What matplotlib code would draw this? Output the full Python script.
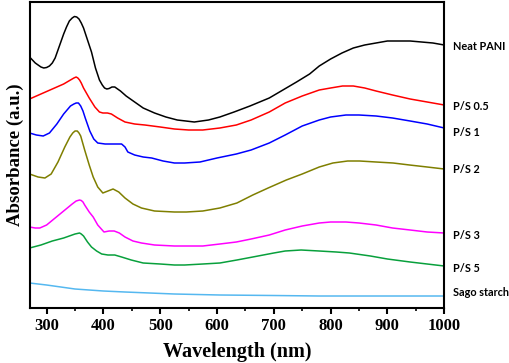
import numpy as np
import matplotlib
matplotlib.use("Agg")
import matplotlib.pyplot as plt
from matplotlib.ticker import MultipleLocator

# UV-vis spectra (absorbance in arbitrary units, offset per sample)
wl_pani = [270, 280, 285, 290, 295, 300, 305, 310, 315, 320, 325, 330, 335, 340, 345, 349,
           353, 357, 361, 365, 372, 379, 386, 393, 398, 402, 406, 410, 415, 420, 425, 430,
           440, 455, 470, 490, 510, 530, 560, 585, 605, 630, 658, 692, 716, 740, 763, 780,
           800, 820, 840, 860, 880, 900, 920, 940, 960, 980, 1000]
abs_pani = [2.51, 2.45, 2.43, 2.41, 2.40, 2.405, 2.42, 2.45, 2.50, 2.58, 2.66, 2.74, 2.81,
            2.87, 2.90, 2.915, 2.91, 2.89, 2.85, 2.80, 2.68, 2.56, 2.40, 2.28, 2.23, 2.20,
            2.19, 2.195, 2.21, 2.21, 2.19, 2.17, 2.12, 2.06, 2.00, 1.95, 1.91, 1.88, 1.86,
            1.88, 1.91, 1.96, 2.02, 2.10, 2.18, 2.26, 2.34, 2.42, 2.49, 2.55, 2.60, 2.63,
            2.65, 2.67, 2.67, 2.67, 2.66, 2.65, 2.63]

wl_ps05 = [270, 290, 310, 330, 345, 348, 352, 355, 358, 361, 365, 375, 385, 393, 399, 407,
           414, 425, 438, 455, 473, 500, 525, 550, 575, 605, 634, 660, 692, 720, 750, 780,
           800, 821, 840, 860, 880, 909, 940, 970, 1000]
abs_ps05 = [2.09, 2.14, 2.19, 2.24, 2.29, 2.30, 2.31, 2.30, 2.28, 2.25, 2.20, 2.10, 2.01,
            1.96, 1.95, 1.95, 1.94, 1.90, 1.86, 1.84, 1.83, 1.81, 1.79, 1.78, 1.78, 1.80,
            1.83, 1.88, 1.96, 2.05, 2.12, 2.18, 2.20, 2.22, 2.22, 2.20, 2.17, 2.13, 2.09,
            2.06, 2.03]

wl_ps1 = [270, 282, 294, 305, 318, 330, 342, 348, 352, 356, 360, 364, 368, 376, 383, 390,
          403, 420, 432, 438, 443, 455, 470, 485, 505, 525, 543, 570, 600, 634, 660, 692,
          720, 750, 780, 800, 827, 850, 880, 909, 940, 970, 1000]
abs_ps1 = [1.75, 1.73, 1.72, 1.75, 1.84, 1.94, 2.02, 2.04, 2.05, 2.05, 2.02, 1.97, 1.90,
           1.77, 1.69, 1.65, 1.64, 1.64, 1.64, 1.61, 1.56, 1.53, 1.51, 1.50, 1.47, 1.45,
           1.45, 1.46, 1.50, 1.54, 1.58, 1.65, 1.73, 1.82, 1.88, 1.91, 1.93, 1.93, 1.92,
           1.90, 1.87, 1.84, 1.80]

wl_ps2 = [270, 285, 297, 308, 320, 332, 341, 346, 350, 354, 357, 360, 367, 375, 382, 390,
          399, 408, 417, 427, 438, 452, 467, 490, 525, 546, 575, 605, 635, 663, 690, 722,
          750, 780, 804, 830, 851, 880, 910, 939, 970, 1000]
abs_ps2 = [1.34, 1.31, 1.30, 1.34, 1.46, 1.61, 1.71, 1.75, 1.77, 1.77, 1.75, 1.72, 1.58,
           1.43, 1.31, 1.21, 1.15, 1.17, 1.19, 1.16, 1.10, 1.04, 1.00, 0.97, 0.96, 0.96,
           0.97, 1.00, 1.05, 1.13, 1.20, 1.28, 1.34, 1.41, 1.45, 1.47, 1.47, 1.46, 1.45,
           1.43, 1.41, 1.39]

wl_ps3 = [270, 280, 288, 300, 315, 330, 345, 352, 355, 358, 361, 364, 367, 375, 382, 390,
          401, 410, 419, 428, 438, 452, 467, 490, 525, 550, 575, 605, 634, 660, 692, 720,
          750, 780, 800, 827, 850, 880, 909, 940, 970, 1000]
abs_ps3 = [0.81, 0.80, 0.80, 0.83, 0.90, 0.97, 1.04, 1.07, 1.075, 1.08, 1.075, 1.06, 1.03,
           0.96, 0.91, 0.83, 0.76, 0.77, 0.77, 0.75, 0.71, 0.67, 0.65, 0.63, 0.62, 0.62,
           0.62, 0.64, 0.66, 0.69, 0.73, 0.78, 0.82, 0.85, 0.86, 0.86, 0.85, 0.83, 0.80,
           0.78, 0.76, 0.75]

wl_ps5 = [270, 290, 310, 330, 350, 354, 358, 361, 365, 372, 379, 388, 397, 408, 420, 432,
          449, 470, 500, 525, 543, 575, 605, 635, 663, 700, 720, 748, 780, 810, 833, 870,
          900, 940, 970, 1000]
abs_ps5 = [0.60, 0.63, 0.67, 0.70, 0.74, 0.745, 0.75, 0.74, 0.72, 0.66, 0.61, 0.57, 0.54,
           0.53, 0.53, 0.51, 0.48, 0.45, 0.44, 0.43, 0.43, 0.44, 0.45, 0.48, 0.51, 0.55,
           0.57, 0.58, 0.57, 0.56, 0.55, 0.52, 0.49, 0.46, 0.44, 0.42]

wl_sago = [270, 300, 350, 400, 438, 525, 605, 700, 780, 900, 1000]
abs_sago = [0.25, 0.23, 0.19, 0.17, 0.16, 0.14, 0.13, 0.125, 0.12, 0.12, 0.12]

names = ["Neat PANI", "P/S 0.5", "P/S 1", "P/S 2", "P/S 3", "P/S 5", "Sago starch"]
colors = ["black", "#ff0000", "#0000ff", "#7f7f00", "#ff00ff", "#08a03c", "#55b8f0"]
label_y = [2.61, 2.01, 1.76, 1.39, 0.73, 0.40, 0.157]

series = [(wl_pani, abs_pani), (wl_ps05, abs_ps05), (wl_ps1, abs_ps1), (wl_ps2, abs_ps2),
          (wl_ps3, abs_ps3), (wl_ps5, abs_ps5), (wl_sago, abs_sago)]

serif = "Liberation Serif"

fig = plt.figure(figsize=(5.1, 3.63), dpi=100)
ax = fig.add_axes([0.058, 0.1515, 0.813, 0.843])

for (x, y), c in zip(series, colors):
    ax.plot(x, y, color=c, lw=1.1, solid_joinstyle="round")

for name, c, ly in zip(names, colors, label_y):
    ax.annotate(name, xy=(1.022, ly), xycoords=("axes fraction", "data"),
                ha="left", va="center", fontsize=7.8, fontweight="bold",
                family="Lato", annotation_clip=False)

ax.set_xlim(270, 1000)
ax.set_ylim(0, 3.06)
ax.set_yticks([])
ax.xaxis.set_major_locator(MultipleLocator(100))
ax.xaxis.set_minor_locator(MultipleLocator(50))
ax.tick_params(axis="x", which="major", direction="out", length=4, width=1.5,
               pad=3, labelsize=12)
ax.tick_params(axis="x", which="minor", direction="out", length=2, width=1.2)
for lab in ax.get_xticklabels():
    lab.set_fontfamily(serif)
    lab.set_fontweight("bold")
for sp in ax.spines.values():
    sp.set_linewidth(1.5)

ax.set_xlabel("Wavelength (nm)", family=serif, fontweight="bold", fontsize=14.5, labelpad=6)
ax.set_ylabel("Absorbance (a.u.)", family=serif, fontweight="bold", fontsize=13.5, labelpad=4)

fig.savefig("out.png", dpi=100)
